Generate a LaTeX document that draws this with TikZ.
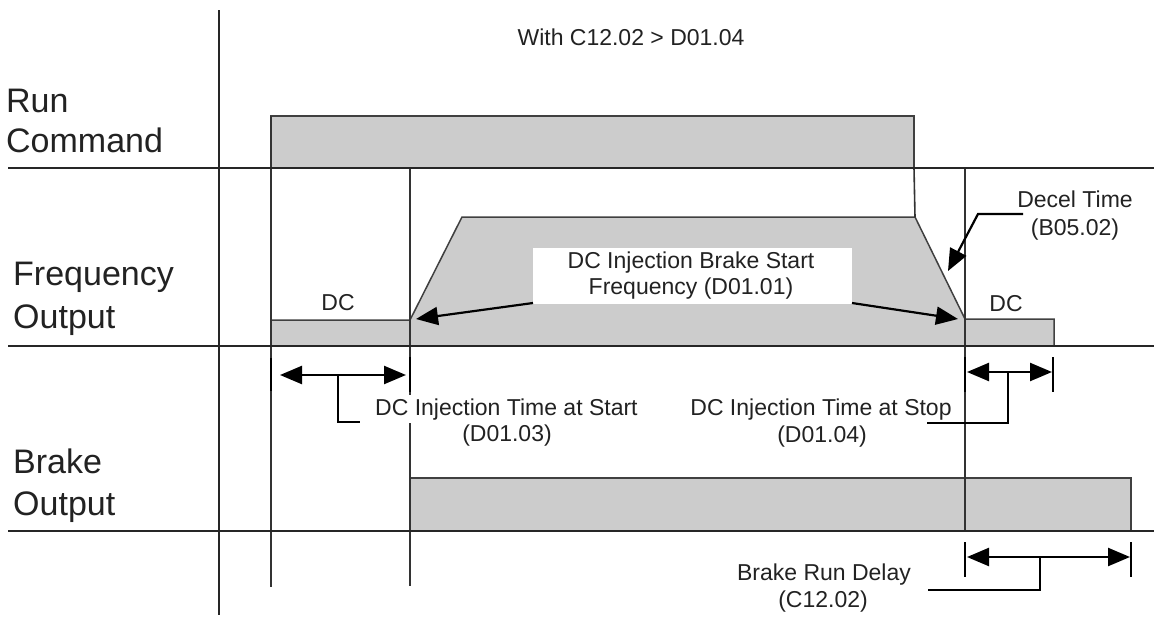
\documentclass[tikz,border=0pt]{standalone}
\usepackage{fontspec}
\setmainfont{Liberation Sans}
\usetikzlibrary{arrows.meta}
\definecolor{sigfill}{HTML}{CCCCCC}
\definecolor{txt}{HTML}{222222}
\begin{document}
\begin{tikzpicture}[x=1pt,y=-1pt,
  big/.style={font=\fontsize{34}{40}\selectfont, text=txt, inner sep=0pt},
  small/.style={font=\fontsize{23}{27}\selectfont, text=txt, inner sep=0pt},
  axisline/.style={line width=2.8pt, draw=black!85},
  sig/.style={fill=sigfill, draw=black!75, line width=1.5pt},
  tline/.style={line width=1.6pt, draw=black!80},
  dimarrow/.style={line width=2.4pt, {Triangle[length=22pt,width=18pt]}-{Triangle[length=22pt,width=18pt]}},
  dimtick/.style={line width=2.6pt},
  leaderline/.style={line width=2.2pt},
  ptr/.style={line width=2.2pt, -{Triangle[length=22pt,width=18pt]}}
]
\useasboundingbox (0,0) rectangle (1154,616);

% signal shapes
\path[sig] (271,168) -- (271,116) -- (914,116) -- (914,168);
\path[sig] (271,346) -- (271,320) -- (410,320) -- (462,217) -- (915,217)
  -- (965,319) -- (1054,319) -- (1054,346);
\path[sig] (410,531) -- (410,478) -- (1131,478) -- (1131,531);

% timing lines
\coordinate (runoff) at (914,168);
\coordinate (decelstart) at (915,217);
\draw[tline] (runoff) -- (decelstart);
\draw[tline] (271,116) -- (271,587);
\draw[tline] (410,168) -- (410,586);
\draw[tline] (965,168) -- (965,532);

% axes
\draw[axisline] (219,10) -- (219,615);
\draw[axisline] (8,168) -- (1154,168);
\draw[axisline] (8,346) -- (1154,346);
\draw[axisline] (8,531) -- (1154,531);

% labels
\node[big, anchor=base west] (runl1) at (6,112) {Run};
\node[big, anchor=base west] (runl2) at (6,152) {Command};
\node[big, anchor=base west] (freql1) at (13,285) {Frequency};
\node[big, anchor=base west] (freql2) at (13,328) {Output};
\node[big, anchor=base west] (brkl1) at (13,473) {Brake};
\node[big, anchor=base west] (brkl2) at (13,515) {Output};

\node[small, anchor=base] (title) at (631,45) {With C12.02 > D01.04};

\node[small, anchor=base] (dc1) at (338,310) {DC};
\node[small, anchor=base] (dc2) at (1006,311) {DC};

% DC injection brake start frequency
\fill[white] (533,248) rectangle (852,304);
\coordinate (boxL) at (533,303);
\coordinate (boxR) at (852,303);
\node[small, anchor=base] (bsf1) at (691,268) {DC Injection Brake Start};
\node[small, anchor=base] (bsf2) at (691,294) {Frequency (D01.01)};
\coordinate (tipL) at (416,319);
\coordinate (tipR) at (958,319);
\draw[ptr] (boxL) -- (tipL);
\draw[ptr] (boxR) -- (tipR);

% decel time
\node[small, anchor=base] (dec1) at (1075,207) {Decel Time};
\node[small, anchor=base] (dec2) at (1075,235) {(B05.02)};
\coordinate (decA) at (1023,214);
\coordinate (decB) at (978,214);
\coordinate (decT) at (948,271);
\draw[ptr] (decA) -- (decB) -- (decT);

% DC injection time at start
\coordinate (s1a) at (271,358); \coordinate (s1b) at (271,391);
\coordinate (s2a) at (410,357); \coordinate (s2b) at (410,392);
\draw[dimtick] (s1a) -- (s1b);
\draw[dimtick] (s2a) -- (s2b);
\coordinate (sL) at (280,375); \coordinate (sR) at (406,375);
\draw[dimarrow] (sL) -- (sR);
\coordinate (sM) at (338,375);
\coordinate (sK) at (338,422);
\coordinate (sE) at (360,422);
\draw[leaderline] (sM) -- (sK) -- (sE);
\node[small, anchor=base west, fill=white, inner xsep=2pt, inner ysep=3pt] (its1) at (373,415) {DC Injection Time at Start};
\node[small, anchor=base] (its2) at (507,441) {(D01.03)};

% DC injection time at stop
\coordinate (t1a) at (965,357); \coordinate (t1b) at (965,392);
\coordinate (t2a) at (1053,357); \coordinate (t2b) at (1053,392);
\draw[dimtick] (t1a) -- (t1b);
\draw[dimtick] (t2a) -- (t2b);
\coordinate (tL) at (967,372); \coordinate (tR) at (1052,372);
\draw[dimarrow] (tL) -- (tR);
\coordinate (tM) at (1008,372);
\coordinate (tK) at (1008,423);
\coordinate (tE) at (927,423);
\draw[leaderline] (tM) -- (tK) -- (tE);
\node[small, anchor=base] (itp1) at (821,415) {DC Injection Time at Stop};
\node[small, anchor=base] (itp2) at (822,442) {(D01.04)};

% brake run delay
\coordinate (b1a) at (965,542); \coordinate (b1b) at (965,577);
\coordinate (b2a) at (1131,542); \coordinate (b2b) at (1131,577);
\draw[dimtick] (b1a) -- (b1b);
\draw[dimtick] (b2a) -- (b2b);
\coordinate (bL) at (967,557); \coordinate (bR) at (1130,557);
\draw[dimarrow] (bL) -- (bR);
\coordinate (bM) at (1040,557);
\coordinate (bK) at (1040,590);
\coordinate (bE) at (928,590);
\draw[leaderline] (bM) -- (bK) -- (bE);
\node[small, anchor=base] (brd1) at (824,580) {Brake Run Delay};
\node[small, anchor=base] (brd2) at (823,607) {(C12.02)};
\end{tikzpicture}
\end{document}
